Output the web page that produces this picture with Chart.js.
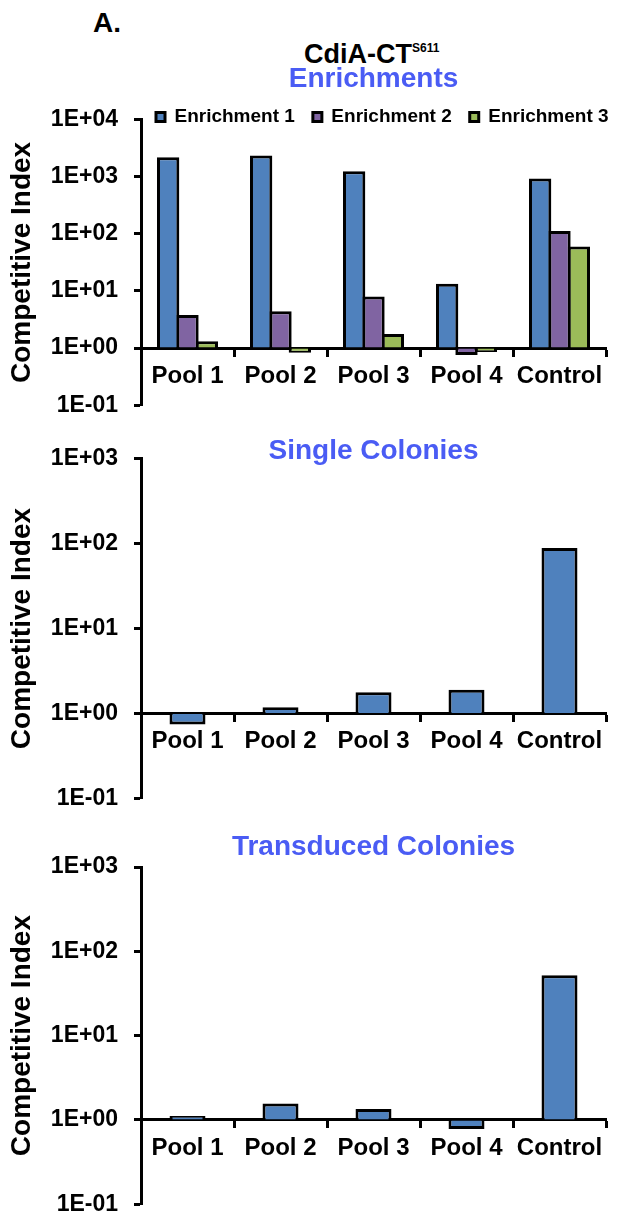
<!DOCTYPE html>
<html>
<head>
<meta charset="utf-8">
<title>CdiA-CT S611 competitive index</title>
<script src="https://cdn.jsdelivr.net/npm/chart.js@4.4.1/dist/chart.umd.min.js"></script>
<style>
  html, body { margin: 0; padding: 0; background: #fff; width: 620px; height: 1220px; overflow: hidden; }
  .panel { position: absolute; left: 0; }
  .hdr { position: absolute; font-family: 'Liberation Sans', Arial, sans-serif; font-weight: bold; color: #000; white-space: nowrap; }
</style>
</head>
<body>
<div class="hdr" style="left:93px; top:9px; font-size:28px; line-height:28px;">A.</div>
<div class="hdr" style="left:304px; top:35px; font-size:27px; line-height:27px;">CdiA-CT<span style="font-size:12px; vertical-align:11px;">S611</span></div>
<canvas id="enrichChart" class="panel" width="620" height="383" style="top:52px"></canvas>
<canvas id="singleChart" class="panel" width="620" height="408" style="top:420px"></canvas>
<canvas id="transChart" class="panel" width="620" height="415" style="top:819px"></canvas>
<script>
// Categories and competitive-index values (log scale, baseline at 1)
const categories = ['Pool 1', 'Pool 2', 'Pool 3', 'Pool 4', 'Control'];
const enrichment1 = [2200, 2350, 1250, 13.4, 930];
const enrichment2 = [3.8, 4.4, 8.0, 0.76, 112];
const enrichment3 = [1.32, 0.83, 1.77, 0.93, 60];
const singleColonies = [0.74, 1.18, 1.78, 1.9, 89];
const transducedColonies = [1.04, 1.57, 1.35, 0.78, 52];

// Axis ticks (powers of ten) and their labels
const enrichTicks = [0.1, 1, 10, 100, 1000, 10000];
const colonyTicks = [0.1, 1, 10, 100, 1000];
const tickLabels = ['1E-01', '1E+00', '1E+01', '1E+02', '1E+03', '1E+04'];

const seriesNames = ['Enrichment 1', 'Enrichment 2', 'Enrichment 3'];
const seriesColors = ['#4F81BD', '#8064A2', '#9BBB59'];
const panelTitles = ['Enrichments', 'Single Colonies', 'Transduced Colonies'];
const axisTitle = 'Competitive Index';

const FONT = "'Liberation Sans', Arial, sans-serif";
const TITLE_BLUE = '#4A5CF4';
const LEGEND_FONT = 19;

Chart.defaults.font.family = FONT;
Chart.defaults.font.weight = 'bold';
Chart.defaults.color = '#000';
Chart.defaults.animation = false;

// Places the legend row just over the top edge of the plot area
const legendOverPlot = {
  id: 'legendOverPlot',
  afterLayout(chart, args, opts) {
    const lg = chart.legend;
    if (!lg) return;
    const pad = lg.options.labels.padding;
    const area = chart.chartArea;
    const left = area.left + opts.offsetX - pad;
    const top = area.top + opts.offsetY - pad - LEGEND_FONT / 2;
    lg.right = left + lg.width;
    lg.left = left;
    lg.bottom = top + lg.height;
    lg.top = top;
  }
};

function tickLabel(v) {
  return tickLabels[Math.round(Math.log10(v)) + 1];
}

function makeScales(ticks) {
  return {
    x: {
      type: 'category',
      position: { y: 1 },
      z: 1,
      grid: { display: true, drawOnChartArea: false, drawTicks: true, tickLength: 7, tickWidth: 3, tickColor: '#000', offset: true },
      border: { display: true, color: '#000', width: 3 },
      ticks: { font: { size: 24, weight: 'bold' }, color: '#000', padding: 7, maxRotation: 0, autoSkip: false }
    },
    y: {
      type: 'logarithmic',
      min: ticks[0],
      max: ticks[ticks.length - 1],
      z: 1,
      afterFit(scale) { scale.width = 141; },
      afterBuildTicks(scale) { scale.ticks = ticks.map(v => ({ value: v })); },
      grid: { display: true, drawOnChartArea: false, drawTicks: true, tickLength: 7, tickWidth: 3, tickColor: '#000' },
      border: { display: true, color: '#000', width: 3 },
      ticks: { font: { size: 23, weight: 'bold' }, color: '#000', padding: 16, autoSkip: false, callback: (v) => tickLabel(v) },
      title: { display: true, text: axisTitle, color: '#000', font: { size: 28, weight: 'bold' }, padding: { top: 5, bottom: 0 } }
    }
  };
}

function titleOpts(text, top, bottom) {
  return { display: true, text: text, color: TITLE_BLUE, font: { size: 28, weight: 'bold' }, fullSize: false, align: 'center', padding: { top: top, bottom: bottom } };
}

// Enrichments: three series per pool
new Chart(document.getElementById('enrichChart'), {
  type: 'bar',
  data: {
    labels: categories,
    datasets: [enrichment1, enrichment2, enrichment3].map((vals, i) => ({
      label: seriesNames[i],
      data: vals,
      backgroundColor: seriesColors[i],
      borderColor: '#000',
      borderWidth: 3,
      borderSkipped: 'start',
      base: 1,
      minBarLength: 4,
      categoryPercentage: 0.624,
      barPercentage: 1.155
    }))
  },
  options: {
    responsive: false,
    layout: { padding: { left: 0, right: 14, top: 0, bottom: 0 } },
    scales: makeScales(enrichTicks),
    plugins: {
      title: titleOpts(panelTitles[0], 10.2, -23.2),
      legend: {
        display: true,
        position: 'top',
        align: 'start',
        labels: { boxWidth: 9, boxHeight: 9, padding: 18, color: '#000', font: { size: LEGEND_FONT, weight: 'bold' } }
      },
      legendOverPlot: { offsetX: 15, offsetY: -2.5 },
      tooltip: { enabled: false }
    }
  },
  plugins: [legendOverPlot]
});

// Single-series panels
function singlePanel(id, values, title, padTop, padBottom) {
  new Chart(document.getElementById(id), {
    type: 'bar',
    data: {
      labels: categories,
      datasets: [{
        label: title,
        data: values,
        backgroundColor: seriesColors[0],
        borderColor: '#000',
        borderWidth: 3,
        borderSkipped: 'start',
        base: 1,
        minBarLength: 4,
        categoryPercentage: 0.387,
        barPercentage: 1
      }]
    },
    options: {
      responsive: false,
      layout: { padding: { left: 0, right: 14, top: 0, bottom: 0 } },
      scales: makeScales(colonyTicks),
      plugins: {
        title: titleOpts(title, padTop, padBottom),
        legend: { display: false },
        tooltip: { enabled: false }
      }
    }
  });
}

singlePanel('singleChart', singleColonies, panelTitles[1], 14.3, -9);
singlePanel('transChart', transducedColonies, panelTitles[2], 11.3, 3.1);
</script>
</body>
</html>
